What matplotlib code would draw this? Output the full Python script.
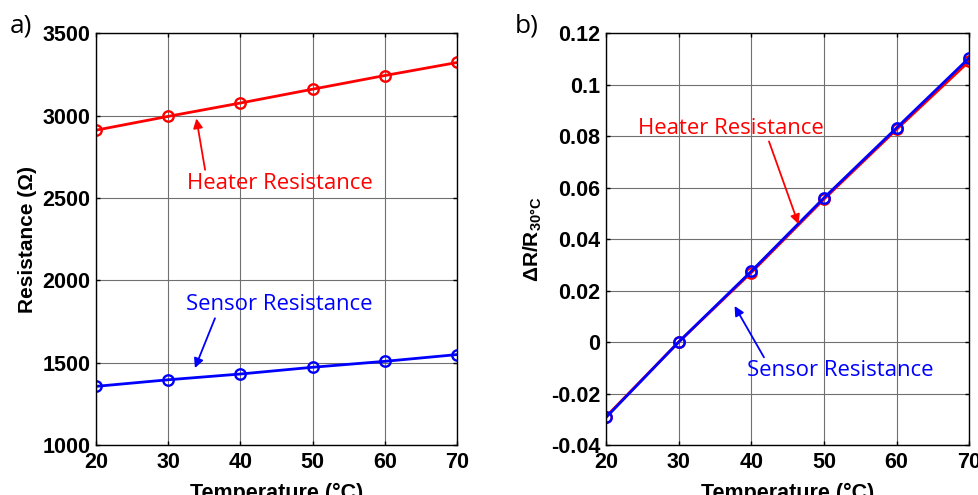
import numpy as np
import matplotlib
matplotlib.use('Agg')
import matplotlib.pyplot as plt

plt.rcParams['font.family'] = ['Liberation Sans', 'DejaVu Sans']
plt.rcParams['mathtext.fontset'] = 'custom'
plt.rcParams['mathtext.rm'] = 'Liberation Sans:bold'
plt.rcParams['mathtext.bf'] = 'Liberation Sans:bold'

# data
temp = [20, 30, 40, 50, 60, 70]
heater_res = [2911, 2995, 3076, 3160, 3243, 3322]
sensor_res = [1356, 1396, 1431, 1472, 1508, 1549]
heater_rel = [-0.029, 0.0, 0.027, 0.0555, 0.0826, 0.1091]
sensor_rel = [-0.0293, 0.0, 0.0275, 0.056, 0.0832, 0.1104]

fig = plt.figure(figsize=(9.79, 4.95), dpi=100)
ax1 = fig.add_axes([0.098, 0.101, 0.369, 0.832])
ax2 = fig.add_axes([0.619, 0.101, 0.371, 0.832])

note_font = dict(family=['Open Sans', 'DejaVu Sans'], fontsize=15.9)


def style(ax):
    ax.grid(True, color='#707070', lw=0.8)
    ax.set_axisbelow(True)
    ax.tick_params(direction='in', top=True, right=True, length=3, width=1,
                   labelsize=15.5, pad=4)
    ax.tick_params(axis='x', pad=5)
    for lab in ax.get_xticklabels() + ax.get_yticklabels():
        lab.set_fontweight('bold')
    for s in ax.spines.values():
        s.set_linewidth(1.0)
    ax.set_xlim(20, 70)
    ax.set_xticks([20, 30, 40, 50, 60, 70])
    ax.set_xlabel('Temperature (°C)', fontsize=15.5, fontweight='bold', labelpad=7)


# a) absolute resistance
ax1.plot(temp, heater_res, '-o', color='red', lw=2, ms=7.5, mfc='none', mew=1.7)
ax1.plot(temp, sensor_res, '-o', color='blue', lw=2, ms=7.5, mfc='none', mew=1.7)
ax1.set_ylim(1000, 3500)
ax1.set_yticks(np.arange(1000, 3501, 500))
style(ax1)
ax1.set_ylabel('Resistance (Ω)', fontsize=15, fontweight='bold', labelpad=4)
ax1.annotate('Heater Resistance', xy=(33.9, 2982), xytext=(32.6, 2590),
             color='red', va='center', ha='left', **note_font,
             arrowprops=dict(arrowstyle='-|>', color='red', lw=1.3,
                             shrinkA=0, shrinkB=0, mutation_scale=14,
                             relpos=(0.1, 1.0)))
ax1.annotate('Sensor Resistance', xy=(33.7, 1467), xytext=(32.5, 1850),
             color='blue', va='center', ha='left', **note_font,
             arrowprops=dict(arrowstyle='-|>', color='blue', lw=1.3,
                             shrinkA=0, shrinkB=0, mutation_scale=14,
                             relpos=(0.16, 0.0)))

# b) relative change
ax2.plot(temp, heater_rel, '-o', color='red', lw=2, ms=7.5, mfc='none', mew=1.7)
ax2.plot(temp, sensor_rel, '-o', color='blue', lw=2, ms=7.5, mfc='none', mew=1.7)
ax2.set_ylim(-0.04, 0.12)
ax2.set_yticks([-0.04, -0.02, 0, 0.02, 0.04, 0.06, 0.08, 0.1, 0.12])
ax2.set_yticklabels(['-0.04', '-0.02', '0', '0.02', '0.04', '0.06', '0.08', '0.1', '0.12'])
style(ax2)
ax2.set_ylabel(r'ΔR/R$_{\mathrm{30°C}}$', fontsize=15, fontweight='bold', labelpad=5)
ax2.annotate('Heater Resistance', xy=(46.5, 0.0458), xytext=(24.4, 0.0831),
             color='red', va='center', ha='left', **note_font,
             arrowprops=dict(arrowstyle='-|>', color='red', lw=1.3,
                             shrinkA=0, shrinkB=0, mutation_scale=14,
                             relpos=(0.7, 0.0)))
ax2.annotate('Sensor Resistance', xy=(37.7, 0.014), xytext=(39.4, -0.0111),
             color='blue', va='center', ha='left', **note_font,
             arrowprops=dict(arrowstyle='-|>', color='blue', lw=1.3,
                             shrinkA=0, shrinkB=0, mutation_scale=14,
                             relpos=(0.1, 1.0)))

fig.text(0.010, 0.948, 'a)', fontsize=19, va='center', family=['Open Sans', 'DejaVu Sans'])
fig.text(0.526, 0.948, 'b)', fontsize=19, va='center', family=['Open Sans', 'DejaVu Sans'])

fig.savefig('out.png', dpi=100)
